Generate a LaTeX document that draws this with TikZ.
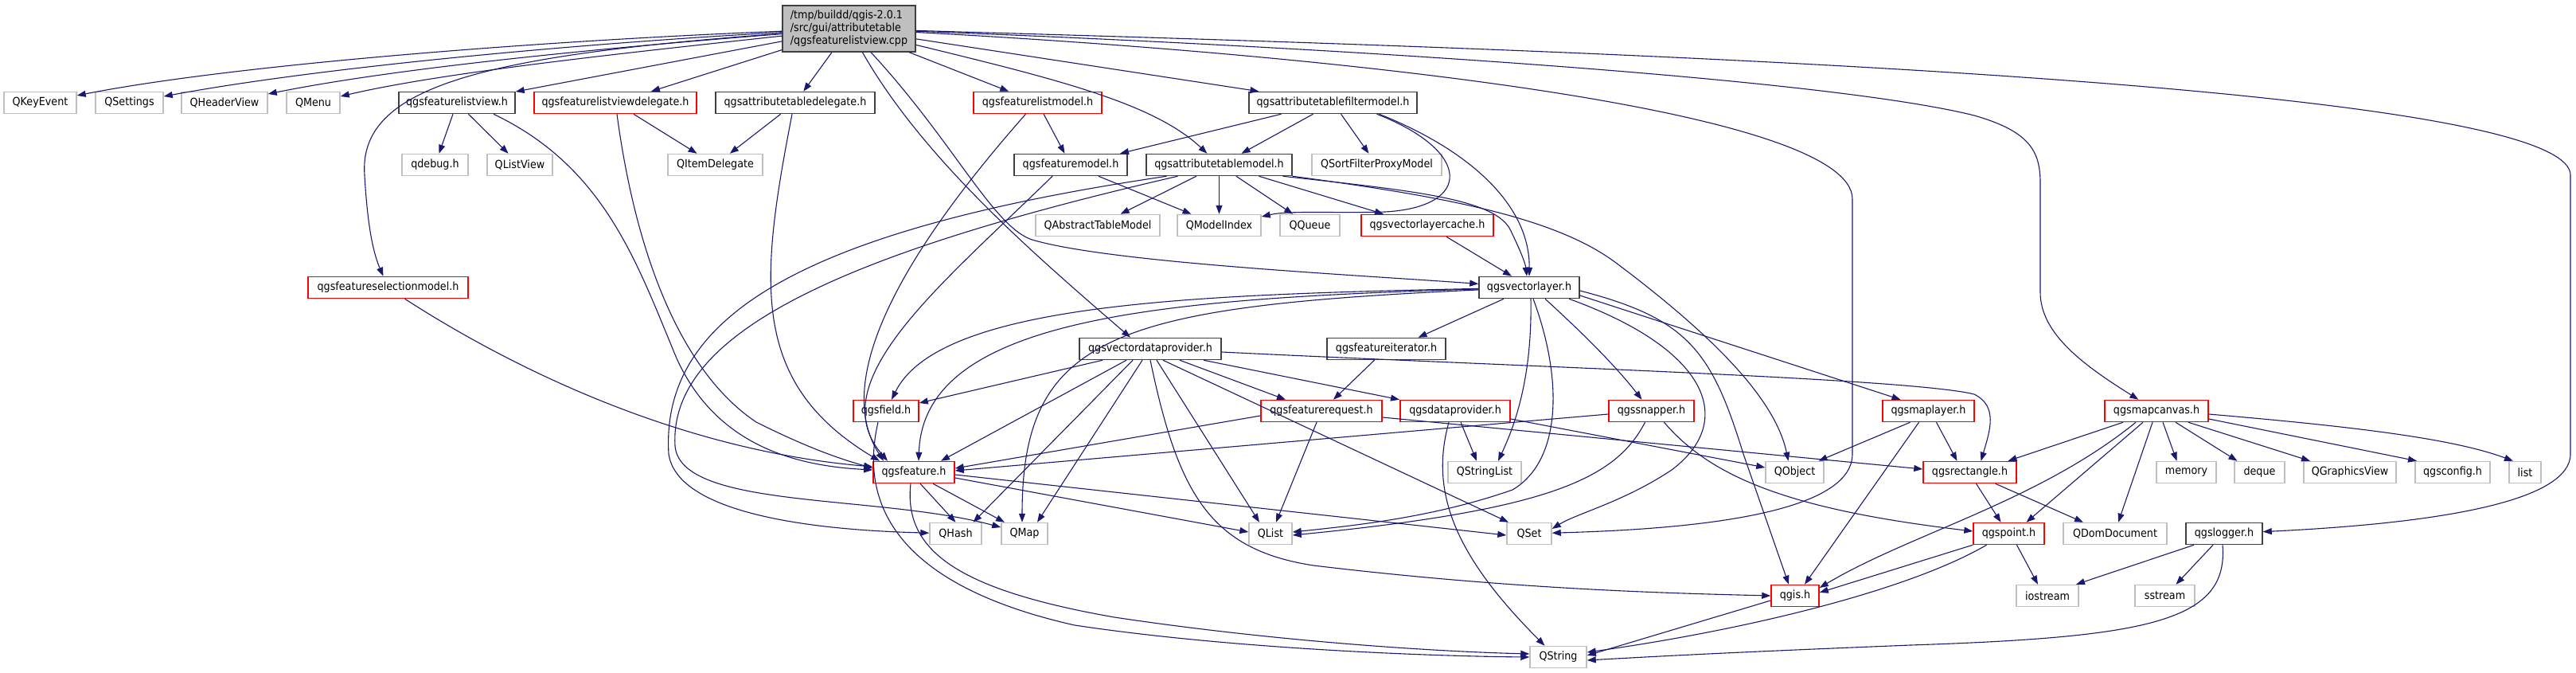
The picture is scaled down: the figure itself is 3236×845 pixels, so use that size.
\documentclass[tikz,border=0pt]{standalone}
\usepackage{fontspec}
\setmainfont[FakeStretch=0.91]{DejaVu Sans}
\usetikzlibrary{arrows.meta,calc}
\definecolor{edgec}{RGB}{25,25,112}
\definecolor{grayb}{RGB}{191,191,191}
\definecolor{blackb}{RGB}{64,64,64}
\definecolor{redb}{RGB}{255,0,0}
\definecolor{rootfill}{RGB}{191,191,191}
\newcommand{\fsz}{\fontsize{14}{16}\selectfont}
\tikzset{
  nb/.style={draw, rectangle, line width=1.5pt, minimum height=27pt, inner sep=0pt, font=\fsz, text=black},
  ng/.style={nb, draw=grayb},
  nk/.style={nb, draw=blackb},
  nr/.style={nb, draw=redb},
  dep/.style={draw=edgec, line width=1.1pt, -{Triangle[length=11pt,width=8pt]}}
}
\begin{document}
\begin{tikzpicture}[x=1pt,y=-1pt]
\useasboundingbox (0,0) rectangle (3236,845);
\fill[white] (0,0) rectangle (3236,845);
% ---------- nodes ----------
\node[nk, fill=rootfill, minimum width=167pt, minimum height=58pt, align=left] (root) at (1066.5,36) {/tmp/buildd/qgis-2.0.1\\/src/gui/attributetable\\/qgsfeaturelistview.cpp};
% row 1
\node[ng, minimum width=91pt]  (QKeyEvent)   at (50.5,129)  {QKeyEvent};
\node[ng, minimum width=85pt]  (QSettings)   at (162.5,129) {QSettings};
\node[ng, minimum width=108pt] (QHeaderView) at (282,129)   {QHeaderView};
\node[ng, minimum width=67pt]  (QMenu)       at (393.5,129) {QMenu};
\node[nk, minimum width=146pt] (flv)  at (574,129)    {qgsfeaturelistview.h};
\node[nr, minimum width=204pt] (flvd) at (773,129)    {qgsfeaturelistviewdelegate.h};
\node[nk, minimum width=200pt] (atd)  at (999,129)    {qgsattributetabledelegate.h};
\node[nr, minimum width=161pt] (flm)  at (1303.5,129) {qgsfeaturelistmodel.h};
\node[nk, minimum width=211pt] (atfm) at (1674.5,129) {qgsattributetablefiltermodel.h};
% row 2
\node[ng, minimum width=83pt]  (qdebug)        at (546.5,207)  {qdebug.h};
\node[ng, minimum width=82pt]  (QListView)     at (653,207)    {QListView};
\node[ng, minimum width=119pt] (QItemDelegate) at (898.5,207)  {QItemDelegate};
\node[nk, minimum width=142pt] (fm)            at (1345,207)   {qgsfeaturemodel.h};
\node[nk, minimum width=183pt] (atm)           at (1531.5,207) {qgsattributetablemodel.h};
\node[ng, minimum width=163pt] (QSFPM)         at (1729.5,207) {QSortFilterProxyModel};
% row 3
\node[ng, minimum width=156pt] (QATM)        at (1379,283)   {QAbstractTableModel};
\node[ng, minimum width=105pt] (QModelIndex) at (1531.5,283) {QModelIndex};
\node[ng, minimum width=75pt]  (QQueue)      at (1645.5,283) {QQueue};
\node[nr, minimum width=166pt] (vlc)         at (1793,283)   {qgsvectorlayercache.h};
% row 4
\node[nr, minimum width=201pt] (fsm) at (487.5,361) {qgsfeatureselectionmodel.h};
\node[nk, minimum width=126pt] (vl)  at (1921,361)  {qgsvectorlayer.h};
% row 5
\node[nk, minimum width=178pt] (vdp) at (1445,438)   {qgsvectordataprovider.h};
\node[nk, minimum width=149pt] (fi)  at (1741.5,438) {qgsfeatureiterator.h};
% row 6
\node[nr, minimum width=82pt]  (field)   at (1113,516)   {qgsfield.h};
\node[nr, minimum width=152pt] (fr)      at (1660,516)   {qgsfeaturerequest.h};
\node[nr, minimum width=138pt] (dp)      at (1828,516)   {qgsdataprovider.h};
\node[nr, minimum width=107pt] (snapper) at (2074.5,516) {qgssnapper.h};
\node[nr, minimum width=115pt] (ml)      at (2422.5,516) {qgsmaplayer.h};
\node[nr, minimum width=130pt] (mc)      at (2709,516)   {qgsmapcanvas.h};
% row 7
\node[nr, minimum width=102pt] (feature)       at (1148,593)   {qgsfeature.h};
\node[ng, minimum width=92pt]  (QStringList)   at (1865,593)   {QStringList};
\node[ng, minimum width=73pt]  (QObject)       at (2254.5,593) {QObject};
\node[nr, minimum width=117pt] (rect)          at (2474.5,593) {qgsrectangle.h};
\node[ng, minimum width=75pt]  (memory)        at (2746.5,593) {memory};
\node[ng, minimum width=63pt]  (deque)         at (2838.5,593) {deque};
\node[ng, minimum width=116pt] (QGraphicsView) at (2952,593)   {QGraphicsView};
\node[ng, minimum width=94pt]  (config)        at (3081,593)   {qgsconfig.h};
\node[ng, minimum width=40pt]  (list)          at (3172,593)   {list};
% row 8
\node[ng, minimum width=65pt]  (QHash)        at (1200.5,670) {QHash};
\node[ng, minimum width=58pt]  (QMap)         at (1287,670)   {QMap};
\node[ng, minimum width=54pt]  (QList)        at (1596,670)   {QList};
\node[ng, minimum width=56pt]  (QSet)         at (1921,670)   {QSet};
\node[nr, minimum width=89pt]  (point)        at (2523.5,670) {qgspoint.h};
\node[ng, minimum width=130pt] (QDomDocument) at (2657,670)   {QDomDocument};
\node[nk, minimum width=96pt]  (logger)       at (2794,670)   {qgslogger.h};
% row 9
\node[nr, minimum width=60pt] (qgis)     at (2255,748)   {qgis.h};
\node[ng, minimum width=78pt] (iostream) at (2572,748)   {iostream};
\node[ng, minimum width=75pt] (sstream)  at (2719.5,748) {sstream};
% row 10
\node[ng, minimum width=71pt] (QString) at (1957.5,825) {QString};

% ---------- edges from root ----------
\draw[dep] (root) .. controls (700,50) and (300,80) .. (QKeyEvent);
\draw[dep] (root) .. controls (720,55) and (400,85) .. (QSettings);
\draw[dep] (root) .. controls (760,60) and (500,85) .. (QHeaderView);
\draw[dep] (root) .. controls (800,65) and (560,90) .. (QMenu);
\draw[dep] (root) -- (flv);
\draw[dep] (root) -- (flvd);
\draw[dep] (root) -- (atd);
\draw[dep] (root) -- (flm);
\draw[dep] (root) -- (atfm);
\draw[dep] (root) .. controls (1330,100) and (1450,130) .. (atm);
\draw[dep] (root) .. controls (600,70) and (450,110) .. (458,220) .. controls (462,290) and (470,320) .. (fsm);
\draw[dep] (root) .. controls (1160,200) and (1300,320) .. ([xshift=-25pt]vdp.north);
\draw[dep] (root) .. controls (1200,180) and (1250,290) .. (1300,302) .. controls (1400,330) and (1700,345) .. (vl);
\draw[dep] (root) .. controls (1700,60) and (2300,100) .. (2480,145) .. controls (2550,165) and (2563,190) .. (2563,230) -- (2563,367) .. controls (2563,420) and (2620,460) .. (mc);
\draw[dep] (root) .. controls (1900,60) and (3229,100) .. (3229,220) -- (3229,570) .. controls (3229,640) and (3000,660) .. (logger);
\draw[dep] (root) .. controls (1700,70) and (2327,140) .. (2327,250) -- (2327,570) .. controls (2327,650) and (2100,665) .. (QSet);

% ---------- upper headers ----------
\draw[dep] (flv) -- (qdebug);
\draw[dep] (flv) -- (QListView);
\draw[dep] ([xshift=46pt]flv.south) .. controls (760,210) and (800,330) .. (850,450) .. controls (900,560) and (1000,585) .. ([yshift=3pt]feature.west);
\draw[dep] (flvd) -- (QItemDelegate);
\draw[dep] ([xshift=2pt]flvd.south) .. controls (800,330) and (860,470) .. (950,530) .. controls (1030,570) and (1070,580) .. ([yshift=5pt]feature.west);
\draw[dep] (atd) -- (QItemDelegate);
\draw[dep] ([xshift=-4pt]atd.south) .. controls (955,350) and (940,480) .. ([xshift=-43pt]feature.north);
\draw[dep] (flm) -- (fm);
\draw[dep] ([xshift=-15pt]flm.south) .. controls (1150,300) and (1040,470) .. ([xshift=-38pt]feature.north);
\draw[dep] (fm) -- (QModelIndex);
\draw[dep] ([xshift=-23pt]fm.south) .. controls (1180,360) and (1030,480) .. ([xshift=-33pt]feature.north);
\draw[dep] (atfm) -- (QSFPM);
\draw[dep] ([xshift=-65pt]atfm.south) -- ([xshift=62pt]fm.north);
\draw[dep] ([xshift=-25pt]atfm.south) -- ([xshift=28pt]atm.north);
\draw[dep] ([xshift=55pt]atfm.south) .. controls (1850,190) and (1850,260) .. (1740,266) .. controls (1680,268) and (1620,264) .. ([yshift=11pt]QModelIndex.east);
\draw[dep] ([xshift=58pt]atfm.south) .. controls (1850,190) and (1922,260) .. (vl.north);
\draw[dep] (atm) -- (QATM);
\draw[dep] (atm) -- (QModelIndex);
\draw[dep] (atm) -- (QQueue);
\draw[dep] ([xshift=50pt]atm.south) -- ([xshift=-55pt]vlc.north);
\draw[dep] ([xshift=80pt]atm.south) .. controls (1780,240) and (1880,250) .. (1898,290) .. controls (1910,315) and (1916,330) .. ([xshift=-3pt]vl.north);
\draw[dep] (atm.south east) .. controls (1800,245) and (1950,270) .. (2030,330) .. controls (2150,420) and (2230,500) .. ([xshift=-8pt]QObject.north);
\draw[dep] ([xshift=-66pt]atm.south) .. controls (1000,290) and (830,400) .. (840,570) .. controls (850,640) and (1000,665) .. (QHash);
\draw[dep] ([xshift=-52pt]atm.south) .. controls (1050,320) and (840,420) .. (848,560) .. controls (855,640) and (1100,620) .. (QMap);
\draw[dep] ([xshift=24pt]vlc.south) -- ([xshift=-22pt]vl.north);
\draw[dep] ([xshift=21pt]fsm.south) .. controls (640,460) and (850,565) .. ([yshift=7pt]feature.west);

% ---------- qgsvectorlayer ----------
\draw[dep] ([xshift=-32pt]vl.south) -- ([xshift=40pt]fi.north);
\draw[dep] (vl) .. controls (1500,370) and (1180,380) .. (field);
\draw[dep] (vl) .. controls (1450,375) and (1160,400) .. ([xshift=6pt]feature.north);
\draw[dep] (vl) .. controls (1400,385) and (1284,420) .. ([xshift=-3pt]QMap.north);
\draw[dep] ([xshift=2pt]vl.south) .. controls (1925,480) and (1900,540) .. ([xshift=17pt]QStringList.north);
\draw[dep] ([xshift=5pt]vl.south) .. controls (1965,480) and (1960,580) .. (1900,615) .. controls (1800,650) and (1700,660) .. ([yshift=2pt]QList.east);
\draw[dep] ([xshift=20pt]vl.south) .. controls (1990,420) and (2030,460) .. ([xshift=-12pt]snapper.north);
\draw[dep] ([xshift=50pt]vl.south) .. controls (2150,440) and (2180,530) .. (2100,590) .. controls (2040,630) and (1980,645) .. ([yshift=6pt]QSet.east);
\draw[dep] ([yshift=-4pt]vl.east) .. controls (2120,400) and (2150,440) .. (2190,570) -- ([xshift=-8pt]qgis.north);
\draw[dep] ([yshift=-10pt]vl.east) -- ([xshift=-35pt]ml.north);

% ---------- qgsvectordataprovider ----------
\draw[dep] ([xshift=-60pt]vdp.south) -- ([yshift=10pt]field.east);
\draw[dep] ([xshift=-30pt]vdp.south) -- ([xshift=34pt]feature.north);
\draw[dep] ([xshift=-22pt]vdp.south) -- ([xshift=22pt]QHash.north);
\draw[dep] ([xshift=-10pt]vdp.south) -- ([xshift=16pt]QMap.north);
\draw[dep] (vdp.south) .. controls (1480,620) and (1520,690) .. (1650,710) .. controls (1900,740) and (2100,745) .. (qgis.west);
\draw[dep] ([xshift=8pt]vdp.south) -- ([xshift=-14pt]QList.north);
\draw[dep] ([xshift=16pt]vdp.south) -- ([xshift=-26pt]QSet.north);
\draw[dep] ([xshift=37pt]vdp.south) -- ([xshift=-45pt]fr.north);
\draw[dep] ([xshift=67pt]vdp.south) -- ([xshift=-70pt]dp.north);
\draw[dep] ([yshift=-4pt]vdp.east) .. controls (1900,460) and (2400,475) .. (2480,495) .. controls (2510,510) and (2500,540) .. ([xshift=14pt]rect.north);

% ---------- middle layer ----------
\draw[dep] ([xshift=-15pt]fi.south) -- ([xshift=15pt]fr.north);
\draw[dep] ([xshift=-10pt]field.south) .. controls (1075,650) and (1150,740) .. (1350,785) .. controls (1550,815) and (1800,824) .. (QString.west);
\draw[dep] ([yshift=-6pt]fr.west) -- ([yshift=5pt]feature.east);
\draw[dep] ([xshift=-6pt]fr.south) -- ([xshift=7pt]QList.north);
\draw[dep] ([yshift=-8pt]fr.east) -- ([yshift=4pt]rect.west);
\draw[dep] ([xshift=7pt]dp.south) -- ([xshift=-10pt]QStringList.north);
\draw[dep] ([xshift=-8pt]dp.south) .. controls (1795,620) and (1830,700) .. ([xshift=-17pt]QString.north);
\draw[dep] ([yshift=-10pt]dp.east) -- ([yshift=6pt]QObject.west);
\draw[dep] ([yshift=-4pt]snapper.west) -- ([yshift=2pt]feature.east);
\draw[dep] ([xshift=-8pt]snapper.south) .. controls (2030,600) and (1950,640) .. ([yshift=-2pt]QList.east);
\draw[dep] ([xshift=16pt]snapper.south) .. controls (2150,600) and (2250,640) .. ([yshift=3pt]point.west);
\draw[dep] ([xshift=-23pt]ml.south) -- ([xshift=30pt]QObject.north);
\draw[dep] ([xshift=-12pt]ml.south) -- ([xshift=12pt]qgis.north);
\draw[dep] ([xshift=10pt]ml.south) -- ([xshift=-16pt]rect.north);

% ---------- qgsmapcanvas ----------
\draw[dep] ([xshift=-42pt]mc.south) -- ([xshift=48pt]rect.north);
\draw[dep] ([xshift=-26pt]mc.south) .. controls (2560,630) and (2400,670) .. ([yshift=10pt]qgis.east);
\draw[dep] ([xshift=-17pt]mc.south) -- ([xshift=22pt]point.north);
\draw[dep] ([xshift=-5pt]mc.south) -- ([xshift=4pt]QDomDocument.north);
\draw[dep] ([xshift=8pt]mc.south) -- ([xshift=-12pt]memory.north);
\draw[dep] ([xshift=24pt]mc.south) -- ([xshift=-28pt]deque.north);
\draw[dep] ([xshift=40pt]mc.south) -- ([xshift=-50pt]QGraphicsView.north);
\draw[dep] ([yshift=-10pt]mc.east) -- ([xshift=-45pt]config.north);
\draw[dep] ([yshift=-4pt]mc.east) .. controls (2950,535) and (3080,550) .. ([xshift=-15pt]list.north);

% ---------- qgsfeature ----------
\draw[dep] ([xshift=8pt]feature.south) -- (QHash.north);
\draw[dep] ([xshift=24pt]feature.south) -- ([xshift=-25pt]QMap.north);
\draw[dep] ([yshift=-7pt]feature.east) -- ([yshift=2pt]QList.west);
\draw[dep] ([yshift=-3pt]feature.east) -- ([yshift=-2pt]QSet.west);
\draw[dep] ([xshift=-4pt]feature.south) .. controls (1135,690) and (1200,740) .. (1400,775) .. controls (1600,805) and (1800,818) .. ([yshift=4pt]QString.west);

% ---------- lower right ----------
\draw[dep] ([xshift=8pt]rect.south) -- ([xshift=-10pt]point.north);
\draw[dep] ([xshift=32pt]rect.south) -- ([xshift=-40pt]QDomDocument.north);
\draw[dep] (point.south west) -- ([yshift=4pt]qgis.east);
\draw[dep] ([xshift=-28pt]point.south) .. controls (2400,740) and (2200,790) .. ([yshift=6pt]QString.east);
\draw[dep] ([xshift=10pt]point.south) -- ([xshift=-12pt]iostream.north);
\draw[dep] ([yshift=-6pt]qgis.west) -- ([yshift=2pt]QString.east);
\draw[dep] ([xshift=-38pt]logger.south) -- ([xshift=36pt]iostream.north);
\draw[dep] ([xshift=-14pt]logger.south) -- ([xshift=14pt]sstream.north);
\draw[dep] ([xshift=-2pt]logger.south) .. controls (2800,780) and (2700,800) .. (2400,810) .. controls (2200,818) and (2100,823) .. ([yshift=-4pt]QString.east);
\end{tikzpicture}
\end{document}
